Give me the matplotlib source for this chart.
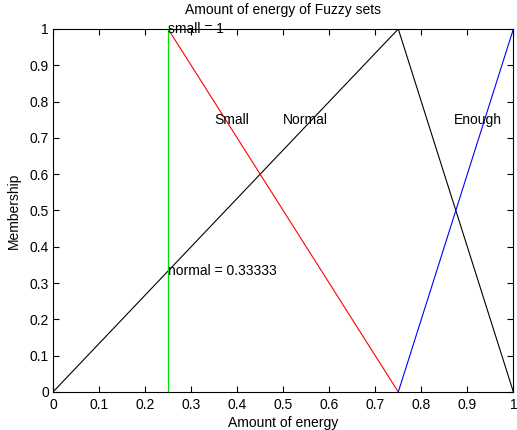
import matplotlib
matplotlib.use("Agg")
import matplotlib.pyplot as plt

plt.rcParams["font.family"] = ["Liberation Sans", "DejaVu Sans"]

# membership functions (breakpoints)
normal_x = [0, 0.75, 1]
normal_y = [0, 1, 0]
small_x = [0.25, 0.75]
small_y = [1, 0]
enough_x = [0.75, 1]
enough_y = [0, 1]
cut_x = [0.25, 0.25]
cut_y = [0, 1]

label_x = [0.35, 0.5, 0.87]
label_y = 0.75
label_txt = ["Small", "Normal", "Enough"]
ticks = [i / 10 for i in range(11)]
tick_txt = ["0", "0.1", "0.2", "0.3", "0.4", "0.5", "0.6", "0.7", "0.8", "0.9", "1"]

fig = plt.figure(figsize=(5.17, 4.3), dpi=100)
ax = fig.add_axes([0.1025, 0.0884, 0.8905, 0.8442])

ax.plot(normal_x, normal_y, color="k", lw=0.8)
ax.plot(small_x, small_y, color="r", lw=0.8)
ax.plot(enough_x, enough_y, color="b", lw=0.8)
ax.plot(cut_x, cut_y, color="#00e000", lw=0.9)

fs = 10
for x, t in zip(label_x, label_txt):
    ax.text(x, label_y, t, fontsize=fs, va="center", ha="left")
ax.text(0.25, 1, "small = 1", fontsize=fs, va="center", ha="left")
ax.text(0.25, 1 / 3, "normal = 0.33333", fontsize=fs, va="center", ha="left")

ax.set_xlim(0, 1)
ax.set_ylim(0, 1)
ax.set_xticks(ticks)
ax.set_yticks(ticks)
ax.set_xticklabels(tick_txt)
ax.set_yticklabels(tick_txt)
ax.tick_params(direction="in", top=True, right=True, labelsize=fs, length=4, pad=3)
ax.tick_params(axis="x", pad=4)
for s in ax.spines.values():
    s.set_linewidth(0.8)

ax.set_title("Amount of energy of Fuzzy sets", fontsize=fs, pad=11)
ax.set_xlabel("Amount of energy", fontsize=fs, labelpad=3)
ax.set_ylabel("Membership", fontsize=fs, labelpad=6)

fig.savefig("out.png", dpi=100)
